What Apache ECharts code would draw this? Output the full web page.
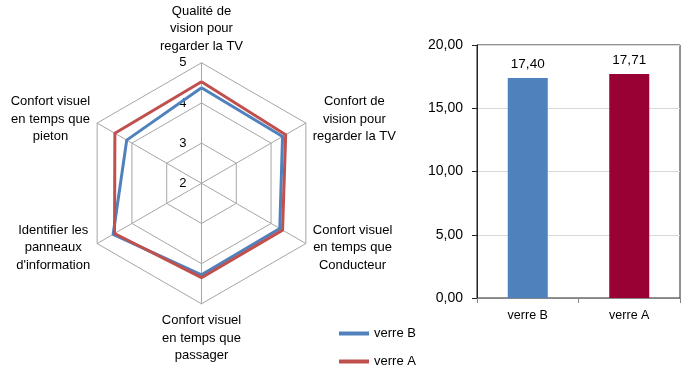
<!DOCTYPE html>
<html>
<head>
<meta charset="utf-8">
<script src="https://cdn.jsdelivr.net/npm/echarts@6/dist/echarts.min.js"></script>
<style>
html,body{margin:0;padding:0;background:#fff;}
#c{width:700px;height:378px;}
</style>
</head>
<body>
<div id="c"></div>
<script>
// Radar data (Excel order, clockwise from top)
const radarCategories = [
  'Qualité de\nvision pour\nregarder la TV',
  'Confort de\nvision pour\nregarder la TV',
  'Confort visuel\nen temps que\nConducteur',
  'Confort visuel\nen temps que\npassager',
  'Identifier les\npanneaux\nd\'information',
  'Confort visuel\nen temps que\npieton'
];
const verreB = [4.38, 4.33, 4.25, 4.28, 4.54, 4.15];
const verreA = [4.53, 4.42, 4.33, 4.35, 4.50, 4.49];
const radarMin = 2, radarMax = 5;

// Bar data
const barCategories = ['verre B', 'verre A'];
const barValues = [17.40, 17.71];
const barColors = ['#4F81BD', '#990033'];
const yTicks = [0, 5, 10, 15, 20];

const FONT = 'Liberation Sans';
// ECharts radar goes counter-clockwise; reorder to match clockwise layout
const order = [0, 5, 4, 3, 2, 1];
const reorder = arr => order.map(i => arr[i]);

const indicators = reorder(radarCategories).map((name, k) => {
  const ind = { name: name, min: radarMin, max: radarMax };
  if (k === 0) {
    ind.axisLabel = { show: true, color: '#000', fontSize: 13, fontFamily: FONT, margin: 15,
      formatter: v => String(v) };
  }
  return ind;
});

const fmt = v => Number(v).toFixed(2).replace('.', ',');

const chart = echarts.init(document.getElementById('c'), null, { renderer: 'canvas' });
chart.setOption({
  backgroundColor: '#fff',
  animation: false,
  radar: {
    center: [201.5, 183.3],
    radius: 120.5,
    startAngle: 90,
    splitNumber: radarMax - radarMin,
    shape: 'polygon',
    indicator: indicators,
    nameGap: 8,
    axisName: {
      color: '#000',
      fontFamily: FONT,
      fontSize: 13,
      formatter: name => name.split('\n').map(l => '{c|' + l + '}').join('\n'),
      rich: { c: { align: 'center', fontSize: 13, lineHeight: 17.5, fontFamily: FONT, color: '#000' } }
    },
    axisLine: { lineStyle: { color: '#A6A6A6', width: 1 } },
    splitLine: { lineStyle: { color: '#A6A6A6', width: 1 } },
    splitArea: { show: false },
    axisTick: { show: false },
    axisLabel: { show: false }
  },
  legend: {
    orient: 'vertical',
    left: 339,
    top: 327,
    padding: 0,
    itemWidth: 30,
    itemHeight: 4,
    itemGap: 15,
    icon: 'rect',
    textStyle: { color: '#000', fontSize: 13, fontFamily: FONT },
    data: ['verre B', 'verre A']
  },
  grid: {
    left: 477, right: 20, top: 45, bottom: 80,
    show: true, borderColor: '#222', borderWidth: 1, backgroundColor: 'transparent'
  },
  xAxis: {
    type: 'category',
    data: barCategories,
    axisLine: { lineStyle: { color: '#868686' } },
    axisTick: { show: true, length: 5, lineStyle: { color: '#868686' } },
    axisLabel: { color: '#000', fontSize: 12.5, fontFamily: FONT, margin: 11 }
  },
  yAxis: {
    type: 'value',
    min: yTicks[0], max: yTicks[yTicks.length - 1], interval: yTicks[1] - yTicks[0],
    axisLine: { show: true, lineStyle: { color: '#222' } },
    axisTick: { show: true, length: 5, lineStyle: { color: '#222' } },
    splitLine: { lineStyle: { color: '#D9D9D9' } },
    axisLabel: { color: '#000', fontSize: 14, fontFamily: FONT, margin: 14, formatter: fmt }
  },
  series: [
    {
      type: 'radar',
      symbol: 'none',
      data: [
        { name: 'verre B', value: reorder(verreB),
          lineStyle: { color: '#4F81BD', width: 3 }, itemStyle: { color: '#4F81BD' } },
        { name: 'verre A', value: reorder(verreA),
          lineStyle: { color: '#C0504D', width: 3 }, itemStyle: { color: '#C0504D' } }
      ]
    },
    {
      type: 'bar',
      barWidth: 40,
      data: barValues.map((v, i) => ({ value: v, itemStyle: { color: barColors[i] } })),
      label: { show: true, position: 'top', distance: 7, color: '#000', fontSize: 13.5, fontFamily: FONT,
        formatter: p => fmt(p.value) }
    }
  ]
});
</script>
</body>
</html>
